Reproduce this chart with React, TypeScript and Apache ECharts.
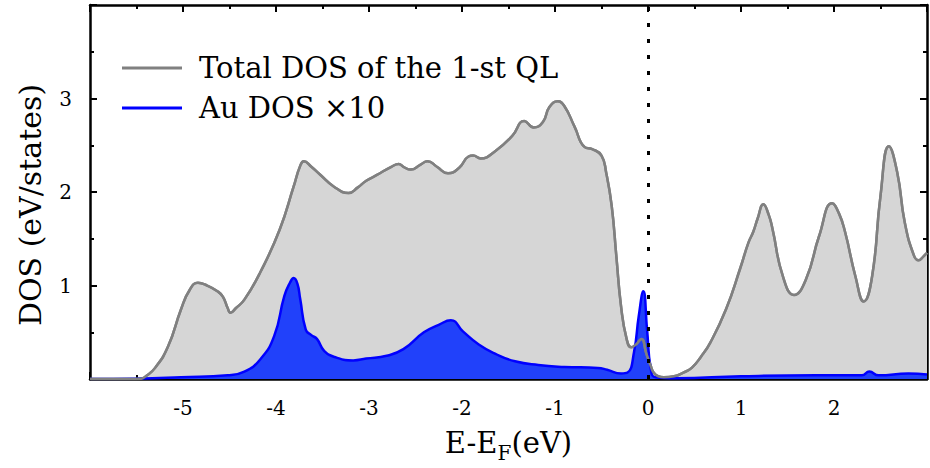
import React, { useEffect, useRef } from "react";
import * as echarts from "echarts";

// Energy (eV) and total DOS of the 1-st QL
const totalE = [
  -6.0, -5.6, -5.45, -5.4, -5.3, -5.16, -5.02, -4.93, -4.84, -4.74, -4.63, -4.57, -4.52, -4.49, -4.43,
  -4.34, -4.17, -3.96, -3.81, -3.74, -3.7, -3.62, -3.53, -3.38, -3.22, -3.12, -3.03, -2.92, -2.76, -2.68,
  -2.63, -2.55, -2.45, -2.37, -2.27, -2.15, -2.03, -1.93, -1.88, -1.8, -1.64, -1.46, -1.33, -1.23, -1.13,
  -1.06, -0.97, -0.9, -0.79, -0.68, -0.6, -0.5, -0.45, -0.39, -0.34, -0.29, -0.23, -0.18, -0.13, -0.07,
  -0.02, 0.03, 0.06, 0.11, 0.17, 0.28, 0.38, 0.47, 0.57, 0.67, 0.84, 0.99, 1.08, 1.13, 1.18, 1.24, 1.3,
  1.34, 1.45, 1.57, 1.7, 1.84, 1.98, 2.05, 2.12, 2.23, 2.32, 2.41, 2.5, 2.59, 2.68, 2.76, 2.86, 2.91,
  2.96, 3.0,
];
const totalDos = [
  0, 0, 0.005, 0.03, 0.12, 0.35, 0.75, 0.95, 1.03, 1.0, 0.94, 0.88, 0.76, 0.71, 0.76,
  0.85, 1.14, 1.6, 2.06, 2.28, 2.33, 2.27, 2.19, 2.06, 1.99, 2.05, 2.12, 2.18, 2.27, 2.3,
  2.27, 2.24, 2.29, 2.33, 2.27, 2.2, 2.26, 2.38, 2.39, 2.36, 2.44, 2.6, 2.76, 2.69, 2.75,
  2.91, 2.97, 2.92, 2.7, 2.48, 2.46, 2.39, 2.21, 1.85, 1.31, 0.78, 0.43, 0.34, 0.37, 0.43,
  0.28, 0.14, 0.07, 0.03, 0.02, 0.03, 0.07, 0.12, 0.24, 0.39, 0.75, 1.18, 1.46, 1.57, 1.72, 1.87, 1.75,
  1.6, 1.1, 0.9, 1.07, 1.53, 1.88, 1.78, 1.57, 1.1, 0.83, 1.1, 1.96, 2.49, 2.21, 1.68, 1.32, 1.27,
  1.31, 1.35,
];

// Energy (eV) and Au DOS x10
const auE = [
  -6.0, -5.5, -5.02, -4.52, -4.34, -4.17, -4.02, -3.91, -3.85, -3.81, -3.77, -3.74, -3.68, -3.62, -3.56,
  -3.48, -3.35, -3.17, -3.03, -2.81, -2.63, -2.41, -2.25, -2.12, -1.99, -1.82, -1.64, -1.43, -1.18, -0.9,
  -0.54, -0.44, -0.29, -0.22, -0.15, -0.1, -0.05, -0.01, 0.03, 0.08, 0.3, 1.0, 1.8, 2.3, 2.38, 2.48, 2.8, 3.0,
];
const auDos = [
  0, 0.005, 0.02, 0.04, 0.08, 0.21, 0.46, 0.89, 1.03, 1.08, 1.02, 0.86, 0.53, 0.47, 0.43,
  0.3, 0.23, 0.2, 0.22, 0.25, 0.32, 0.5, 0.58, 0.63, 0.51, 0.37, 0.27, 0.19, 0.15, 0.13,
  0.12, 0.1, 0.06, 0.07, 0.29, 0.67, 0.94, 0.53, 0.11, 0.02, 0.01, 0.03, 0.04, 0.04, 0.08, 0.04, 0.06, 0.05,
];

const xTickLabels = ["-5", "-4", "-3", "-2", "-1", "0", "1", "2"];
const yTickLabels = ["1", "2", "3"];
const seriesNames = ["Total DOS of the 1-st QL", "Au DOS ×10"];

const FONT = "DejaVu Serif";

export default function App() {
  const ref = useRef<HTMLDivElement>(null);
  useEffect(() => {
    if (!ref.current) return;
    const chart = echarts.init(ref.current, undefined, { renderer: "svg" });
    const totalData = totalE.map((e, i) => [e, totalDos[i]]);
    const auData = auE.map((e, i) => [e, auDos[i]]);
    const axisLineStyle = { color: "#000", width: 2.5 };
    const tick = { show: true, inside: true, length: 7, lineStyle: { color: "#000", width: 2 } };
    const minor = { show: true, splitNumber: 2, length: 4, lineStyle: { color: "#000", width: 2 } };
    const baseX = {
      type: "value",
      min: -6,
      max: 3,
      interval: 1,
      axisLine: { show: true, onZero: false, lineStyle: axisLineStyle },
      axisTick: tick,
      minorTick: minor,
      splitLine: { show: false },
      minorSplitLine: { show: false },
    };
    const baseY = {
      type: "value",
      min: 0,
      max: 4,
      interval: 1,
      axisLine: { show: true, onZero: false, lineStyle: axisLineStyle },
      axisTick: tick,
      minorTick: minor,
      splitLine: { show: false },
      minorSplitLine: { show: false },
    };
    chart.setOption({
      animation: false,
      backgroundColor: "#fff",
      textStyle: { fontFamily: FONT },
      grid: { left: 90, right: -5, top: 5, bottom: 88, containLabel: false },
      legend: {
        orient: "vertical",
        left: 122,
        top: 48,
        padding: 0,
        itemGap: 0,
        itemWidth: 60,
        itemHeight: 3,
        icon: "rect",
        data: [
          { name: seriesNames[0], itemStyle: { color: "#808080" } },
          { name: seriesNames[1], itemStyle: { color: "#0000ff" } },
        ],
        textStyle: {
          fontFamily: FONT,
          fontSize: 29,
          color: "#000",
          lineHeight: 40,
          padding: [0, 0, 0, 12],
        },
      },
      xAxis: [
        {
          ...baseX,
          position: "bottom",
          axisLabel: {
            show: true,
            margin: 19,
            fontFamily: FONT,
            fontSize: 20,
            color: "#000",
            formatter: (v: number) => (xTickLabels.includes(String(v)) ? String(v) : ""),
          },
          name: "E-E{sub|F}(eV)",
          nameLocation: "middle",
          nameGap: 40,
          nameTextStyle: {
            fontFamily: FONT,
            fontSize: 29,
            color: "#000",
            lineHeight: 40,
            verticalAlign: "middle",
            rich: {
              sub: { fontFamily: FONT, fontSize: 20, color: "#000", lineHeight: 16, verticalAlign: "bottom" },
            },
          },
        },
        { ...baseX, position: "top", axisLabel: { show: false } },
      ],
      yAxis: [
        {
          ...baseY,
          position: "left",
          axisLabel: {
            show: true,
            margin: 18,
            fontFamily: FONT,
            fontSize: 20,
            color: "#000",
            formatter: (v: number) => (yTickLabels.includes(String(v)) ? String(v) : ""),
          },
        },
        { ...baseY, position: "right", axisLabel: { show: false } },
      ],
      graphic: [
        {
          type: "text",
          x: 30,
          y: 205,
          rotation: Math.PI / 2,
          style: {
            text: "DOS (eV/states)",
            fontFamily: FONT,
            fontSize: 30,
            fill: "#000",
            textAlign: "center",
            textVerticalAlign: "middle",
            align: "center",
            verticalAlign: "middle",
          },
        },
      ],
      series: [
        {
          name: seriesNames[0],
          type: "line",
          data: totalData,
          showSymbol: false,
          smooth: 0.5,
          lineStyle: { color: "#808080", width: 2.5 },
          itemStyle: { color: "#808080" },
          areaStyle: { color: "#d6d6d6", opacity: 1 },
        },
        {
          name: seriesNames[1],
          type: "line",
          data: auData,
          showSymbol: false,
          smooth: 0.5,
          lineStyle: { color: "#0000ff", width: 2.5 },
          itemStyle: { color: "#0000ff" },
          areaStyle: { color: "#2141fa", opacity: 1 },
        },
        {
          name: seriesNames[0],
          type: "line",
          data: totalData,
          showSymbol: false,
          smooth: 0.5,
          lineStyle: { color: "#808080", width: 2.5 },
          itemStyle: { color: "#808080" },
          markLine: {
            silent: true,
            symbol: "none",
            label: { show: false },
            lineStyle: { color: "#000", width: 3, type: [4, 12] },
            data: [{ xAxis: 0 }],
          },
        },
      ],
    });
    return () => chart.dispose();
  }, []);
  return (
    <div
      ref={ref}
      style={{ position: "fixed", left: 0, top: 0, width: 930, height: 468, background: "#fff" }}
    />
  );
}
